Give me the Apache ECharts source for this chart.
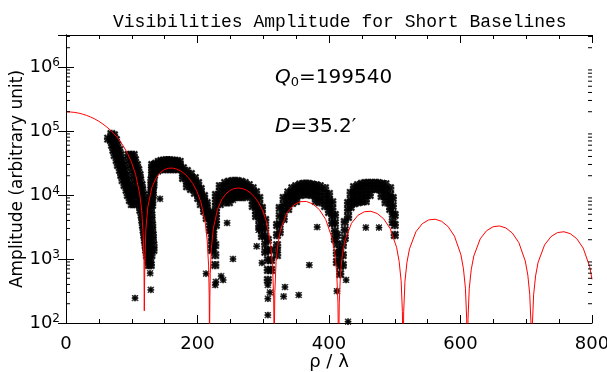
<!DOCTYPE html>
<html>
<head>
<meta charset="utf-8">
<script src="https://cdn.jsdelivr.net/npm/echarts@6/dist/echarts.min.js"></script>
<style>
  html, body { margin: 0; padding: 0; background: #fff; }
  #chart { width: 607px; height: 372px; }
</style>
</head>
<body>
<div id="chart"></div>
<script>
// Model visibility curve (rho / lambda, amplitude)
const modelCurve = [
  [0,199540],[6.2,198540],[12.4,195550],[18.7,190690],[24.9,183980],[31.1,175640],[37.3,165720],
  [43.6,154480],[49.8,142150],[56.0,128930],[62.2,115080],[68.5,100850],[74.7,86500],[80.9,72270],
  [87.1,58390],[93.4,45110],[99.6,32590],[105.8,21030],[112.0,10590],[115.1,5820],[117.6,2200],
  [118.6,910],[119.1,155],[119.8,770],[121.4,2870],[124.5,6585],[130.7,13170],[136.9,18390],
  [143.2,22260],[149.4,24820],[155.6,26150],[161.8,26340],[168.0,25520],[174.3,23820],[180.5,21400],
  [186.7,18400],[192.9,14990],[199.2,11320],[205.4,7560],[211.6,3830],[214.7,1990],[216.9,780],
  [217.8,266],[218.3,40],[218.8,250],[219.4,590],[221.0,1440],[224.1,3010],[230.3,5910],[236.5,8360],
  [242.7,10300],[249.0,11700],[255.2,12560],[261.4,12870],[267.6,12660],[273.9,11980],[280.1,10880],
  [286.3,9430],[292.5,7710],[298.8,5800],[305.0,3780],[311.2,1740],[314.3,720],[315.9,230],[316.6,34],
  [317.6,300],[319.5,910],[322.5,1780],[326.4,2900],[336.2,5280],[346.0,6960],[355.8,7850],[365.6,7920],
  [375.4,7250],[385.2,5930],[395.0,4150],[404.8,2100],[408.7,1260],[411.7,620],[413.6,207],[414.6,30],
  [415.6,205],[417.5,608],[420.5,1200],[424.4,1965],[434.2,3615],[444.0,4810],[453.8,5475],[463.6,5573],
  [473.4,5136],[483.2,4236],[493.0,2988],[502.8,1524],[506.7,914],[509.7,455],[511.6,151],[512.6,25],
  [513.6,149],[515.5,445],[518.5,879],[522.4,1440],[532.2,2665],[541.9,3568],[551.7,4084],[561.5,4182],
  [571.3,3876],[581.1,3214],[590.8,2277],[600.6,1168],[604.5,701],[607.5,350],[609.4,116],[610.4,20],
  [611.4,115],[613.3,343],[616.3,678],[620.2,1112],[630.0,2066],[639.8,2778],[649.6,3192],[659.4,3282],
  [669.1,3053],[678.9,2541],[688.7,1807],[698.5,930],[702.4,560],[705.3,280],[707.3,93],[708.3,15],
  [709.3,92],[711.2,275],[714.2,544],[718.1,892],[727.9,1663],[737.7,2243],[747.5,2586],[757.3,2666],
  [767.0,2487],[776.8,2076],[786.6,1480],[796.4,764],[800,482]
];

// Measured visibilities, main lobe
const visMainLobe = [
  [64,76000],[69,90000],[73,86000],
  [68,72300],[72,72300],[76,72300],[70,60400],[74,60400],[78,60400],
  [72,50500],[76,50500],[81,50500],[74,42200],[79,42200],[83,42200],
  [77,35200],[81,35200],[86,35200],[79,29400],[84,29400],[88,29400],
  [82,24600],[86,24600],[90,24600],[84,20500],[88,20500],[93,20500],
  [86,17100],[91,17100],[95,17100],[89,14300],[93,14300],[97,14300],
  [92,12000],[96,12000],[100,12000],[94,10000],[98,10000],[102,10000],
  [97,8350],[101,8350],[100,7200],[103,7200],
  [95,42200],[99,42200],[103,42200],[97,35200],[101,35200],[105,35200],
  [99,29400],[103,29400],[108,29400],[101,24600],[106,24600],[110,24600],
  [104,20500],[108,20500],[112,20500],[105,17100],[109,17100],[113,17100],
  [107,14300],[111,14300],[115,14300],[108,12000],[112,12000],[116,12000],
  [110,10000],[114,10000],[118,10000],[111,8350],[115,8350],[119,8350],
  [112,6980],[116,6980],[120,6980],[113,5830],[117,5830],[121,5830],
  [115,4870],[119,4870],[122,4870],[116,4070],[120,4070],[123,4070],
  [117,3400],[121,3400],[124,3400],[118,2840],[122,2840],[126,2840],
  [119,2370],[123,2370],[127,2370],[120,1980],[124,1980],[127,1980],
  [121,1650],[125,1650],[128,1650],[122,1380],[126,1380],[129,1380],
  [123,1150],[127,1150],[130,1150],[125,964],[128,964],[126,805],[129,805]
];

// First side lobe
const visLobe1 = [
  [131,29400],[135,29400],[131,24600],[135,24600],[131,20500],[134,20500],[130,17100],[133,17100],
  [130,14300],[133,14300],[130,12000],[132,12000],[129,10000],[132,10000],[129,8350],[131,8350],
  [129,6980],[131,6980],[129,5830],[130,4870],[130,4070],[131,3400],[131,2840],[132,2370],
  [132,1980],[133,1650],[133,1380],
  [137,31000],[141,33000],[145,34000],[149,34500],[153,35000],[157,35000],[161,34500],[165,34000],[169,34000],[173,33000],
  [137,27000],[141,29400],[145,29400],[149,29400],[153,29400],[157,29400],[161,29400],[165,29400],[169,29400],[173,28000],
  [139,24000],[143,25500],[147,25500],[151,25500],[155,25500],[159,25500],[163,25500],[167,25500],[171,25500],
  [178,26300],[178,22100],[178,18400],
  [184,23700],[184,19800],[184,16500],[184,13700],
  [190,21300],[190,17800],[190,14800],[190,12400],
  [196,18400],[196,15400],[196,12800],[196,10800],
  [201,15400],[201,12800],[201,10800],[201,8980],
  [205,12400],[205,10400],[205,8660],[205,7200],
  [210,9640],[210,8060],[210,6730],[210,5620],
  [214,7500],[214,6270],[214,5230],[214,4370],
  [219,5420],[219,4370],[219,3520],[219,2840],
  [224,3400],[224,2640],[224,1980],[224,1490],
  [227,1650],[227,1150],[227,805]
];

// Second side lobe
const visLobe2 = [
  [222,4870],[222,3790],[222,2940],[222,2290],[222,1780],[222,1380],
  [228,10000],[228,8060],[228,6500],[228,5230],[228,4220],[228,3400],
  [234,13800],[234,11100],[234,8980],[234,7200],
  [242,15400],[242,13300],[242,11100],[242,9300],[242,7700],
  [248,16200],[248,13300],[248,11100],[248,9300],[248,7700],
  [254,16600],[254,13300],[254,11100],[254,9300],
  [260,16600],[260,13300],[260,11100],[260,9300],
  [266,16200],[266,13300],[266,11100],[266,9300],
  [272,15400],[272,13300],[272,11100],[272,9300],
  [278,14300],[278,11800],[278,9800],
  [284,12800],[284,10400],[284,8350],[284,6730],
  [289,11100],[289,8980],[289,7200],[289,5830],[289,4700],
  [294,8980],[294,6980],[294,5420],[294,4220],[294,3280],
  [298,6270],[298,4870],[298,3790],[298,2940],[298,2290],
  [303,4070],[303,3050],[303,2290],[303,1710],[303,1290],
  [307,1980],[307,1380],[307,964],[307,673],[307,470],
  [312,1380],[312,964],[312,673]
];

// Third side lobe
const visLobe3 = [
  [321,3400],[321,2370],[321,1650],[321,1150],
  [325,6270],[325,4700],[325,3520],[325,2640],
  [331,8980],[331,6980],[331,5420],[331,4220],
  [338,11000],[338,9300],[338,7500],[338,6040],
  [344,12800],[344,10800],[344,9000],[344,7500],
  [350,13800],[350,11600],[350,9600],[350,8000],
  [356,14600],[356,12000],[356,10000],
  [362,15000],[362,12300],[362,10200],
  [368,15000],[368,12300],[368,10200],
  [374,14600],[374,12000],[374,10000],
  [380,14300],[380,11800],[380,9600],[380,8000],
  [386,13800],[386,11400],[386,9300],[386,7700],
  [394,12800],[394,10400],[394,8350],[394,6730],
  [400,10400],[400,8350],[400,6730],[400,5420],
  [405,7700],[405,6040],[405,4700],[405,3650],
  [409,4870],[409,3650],[409,2740],[409,2050],
  [412,2370],[412,1710],[412,1240],[412,898],
  [417,1380],[417,1040],[417,777],[417,583]
];

// Fourth side lobe
const visLobe4 = [
  [421,1650],[421,1150],[421,805],
  [424,3790],[424,2840],[424,2130],
  [429,7500],[429,5830],[429,4530],
  [433,10800],[433,8350],[433,6500],
  [438,13300],[438,11000],[438,9000],[438,7400],
  [444,14300],[444,12000],[444,9640],[444,7700],
  [450,15000],[450,12400],[450,9900],[450,7900],
  [456,15400],[456,12600],[456,10000],[456,8000],
  [462,15400],[462,12600],[462,10000],
  [468,15400],[468,12400],
  [474,15400],[474,12400],
  [480,15000],[480,12200],[480,9640],
  [486,14800],[486,12000],[486,9640],[486,7700],
  [493,12800],[493,10000],[493,7700],[493,6040],
  [497,8980],[497,6730],[497,5050],[497,3790],
  [500,4870],[500,3400],[500,2370]
];

// Isolated points
const visStray = [
  [105,245],[128,600],[129,330],[143,8700],[213,590],[227,392],[228,440],[236,540],[239,470],
  [245,3660],[254,1000],[254,8350],[290,1580],[293,2840],[298,870],[307,392],[307,240],[307,133],
  [310,300],[322,1380],[331,260],[333,365],[354,274],[370,805],[382,3150],[412,315],[426,470],
  [429,105],[456,3100],[476,3100]
];

const xMin = 0, xMax = 800, xStep = 200;
const yMin = 100, yMax = 3162278;

// minor ticks of the log axis: 2..9 per decade
const yMinorTicks = [];
for (let d = 2; d <= 6; d++) {
  for (let k = 2; k <= 9; k++) {
    const v = k * Math.pow(10, d);
    if (v < yMax) yMinorTicks.push(v);
  }
}

const ASTERISK = 'path://M0,4L10,4L10,6L0,6Z M4,0L6,0L6,10L4,10Z M0,1L1,0L10,9L9,10Z M9,0L10,1L1,10L0,9Z';
const SANS = 'DejaVu Sans';

const chart = echarts.init(document.getElementById('chart'));

const visClusters = [].concat(visMainLobe, visLobe1, visLobe2, visLobe3, visLobe4);

const axisLineStyle = { lineStyle: { color: '#000', width: 1 } };
const majorTick = { inside: true, length: 8, lineStyle: { color: '#000' } };
const minorTickX = { show: true, splitNumber: 4, length: 4, lineStyle: { color: '#000' } };

const option = {
  animation: false,
  backgroundColor: '#fff',
  title: {
    text: 'Visibilities Amplitude for Short Baselines',
    left: 108,
    top: 8,
    textStyle: { fontFamily: 'Liberation Mono', fontSize: 18, fontWeight: 'normal', color: '#000' }
  },
  grid: { left: 66, right: 15, top: 35, bottom: 49, containLabel: false, outerBoundsMode: 'none' },
  xAxis: [{
    type: 'value',
    min: xMin, max: xMax, interval: xStep,
    name: 'ρ / λ',
    nameLocation: 'middle',
    nameGap: 30,
    nameMoveOverlap: false,
    nameTextStyle: { fontFamily: SANS, fontSize: 18, color: '#000' },
    axisLine: axisLineStyle,
    axisTick: majorTick,
    minorTick: minorTickX,
    axisLabel: { fontFamily: SANS, fontSize: 18, color: '#000', margin: 12 },
    splitLine: { show: false }
  }, {
    type: 'value',
    position: 'top',
    min: xMin, max: xMax, interval: xStep,
    axisLine: axisLineStyle,
    axisTick: majorTick,
    minorTick: minorTickX,
    axisLabel: { show: false },
    splitLine: { show: false }
  }],
  yAxis: [{
    type: 'log',
    logBase: 10,
    min: yMin, max: yMax,
    name: 'Amplitude (arbitrary unit)',
    nameLocation: 'middle',
    nameGap: 40,
    nameMoveOverlap: false,
    nameTextStyle: { fontFamily: SANS, fontSize: 17, color: '#000' },
    axisLine: axisLineStyle,
    axisTick: majorTick,
    axisLabel: {
      margin: 6,
      showMaxLabel: false,
      formatter: (v) => '{b|10}{s|' + Math.round(Math.log10(v)) + '}',
      rich: {
        b: { fontFamily: SANS, fontSize: 18, color: '#000' },
        s: { fontFamily: SANS, fontSize: 12, color: '#000', padding: [0, 0, 9, 0] }
      }
    },
    splitLine: { show: false }
  }, {
    type: 'log',
    logBase: 10,
    position: 'right',
    min: yMin, max: yMax,
    axisLine: axisLineStyle,
    axisTick: majorTick,
    axisLabel: { show: false },
    splitLine: { show: false }
  }],
  graphic: [{
    type: 'text',
    left: 275,
    top: 68,
    style: {
      text: '{q|Q}{s|0}{n|=199540}',
      rich: {
        q: { fontFamily: SANS, fontStyle: 'italic', fontSize: 20, fill: '#000' },
        s: { fontFamily: SANS, fontSize: 13, fill: '#000', padding: [9, 0, 0, 0] },
        n: { fontFamily: SANS, fontSize: 20, fill: '#000' }
      }
    }
  }, {
    type: 'text',
    left: 275,
    top: 117,
    style: {
      text: '{q|D}{n|=35.2′}',
      rich: {
        q: { fontFamily: SANS, fontStyle: 'italic', fontSize: 20, fill: '#000' },
        n: { fontFamily: SANS, fontSize: 20, fill: '#000' }
      }
    }
  }],
  series: [{
    type: 'scatter',
    name: 'clusters',
    data: visClusters,
    symbol: ASTERISK,
    symbolSize: 7,
    itemStyle: { color: '#000', borderColor: '#000', borderWidth: 1.3 },
    z: 2
  }, {
    type: 'scatter',
    name: 'stray',
    data: visStray,
    symbol: ASTERISK,
    symbolSize: 6,
    itemStyle: { color: '#000', borderColor: '#000', borderWidth: 0.8 },
    z: 2
  }, {
    type: 'line',
    name: 'model',
    data: modelCurve,
    showSymbol: false,
    symbol: 'none',
    clip: true,
    lineStyle: { color: '#ff0000', width: 1 },
    z: 3
  }, {
    type: 'custom',
    name: 'minorTicks',
    silent: true,
    clip: false,
    data: yMinorTicks.map(v => [xMin, v]),
    renderItem: (params, api) => {
      const v = api.value(1);
      const l = api.coord([xMin, v]);
      const r = api.coord([xMax, v]);
      const st = { stroke: '#000', lineWidth: 1 };
      return {
        type: 'group',
        children: [
          { type: 'line', shape: { x1: l[0], y1: l[1], x2: l[0] + 4, y2: l[1] }, style: st },
          { type: 'line', shape: { x1: r[0], y1: r[1], x2: r[0] - 4, y2: r[1] }, style: st }
        ]
      };
    },
    z: 4
  }]
};

chart.setOption(option);
</script>
</body>
</html>
